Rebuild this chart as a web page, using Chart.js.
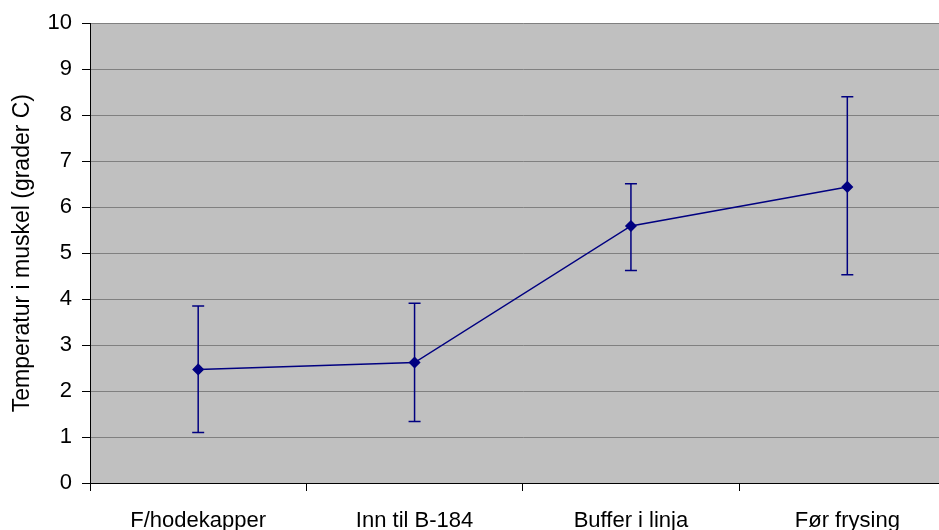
<!DOCTYPE html>
<html>
<head>
<meta charset="utf-8">
<script src="https://cdn.jsdelivr.net/npm/chart.js@4"></script>
<style>
  html, body { margin: 0; padding: 0; overflow: hidden; background: #fff; }
  #wrap { width: 962px; height: 530px; }
</style>
</head>
<body>
<div id="wrap"><canvas id="chartTemp"></canvas></div>
<script>
const categories = ['F/hodekapper', 'Inn til B-184', 'Buffer i linja', 'Før frysing'];
const meanTemp = [2.47, 2.62, 5.59, 6.44];
const errHigh = [3.85, 3.91, 6.51, 8.40];
const errLow = [1.10, 1.34, 4.62, 4.53];

// grå bakgrunn i plottområdet
const plotBg = {
    id: 'plotBg',
    beforeDraw(chart) {
        const { ctx, chartArea: a } = chart;
        ctx.save();
        ctx.fillStyle = '#c0c0c0';
        ctx.fillRect(a.left, a.top, a.right - a.left, a.bottom - a.top);
        ctx.restore();
    }
};

// feilstolper
const errorBars = {
    id: 'errorBars',
    afterDatasetsDraw(chart) {
        const { ctx, scales } = chart;
        const meta = chart.getDatasetMeta(0);
        ctx.save();
        ctx.strokeStyle = '#000080';
        ctx.lineWidth = 1.5;
        meta.data.forEach((pt, i) => {
            const x = pt.x;
            const yHi = scales.y.getPixelForValue(errHigh[i]);
            const yLo = scales.y.getPixelForValue(errLow[i]);
            ctx.beginPath();
            ctx.moveTo(x, yHi); ctx.lineTo(x, yLo);
            ctx.moveTo(x - 6, yHi); ctx.lineTo(x + 6, yHi);
            ctx.moveTo(x - 6, yLo); ctx.lineTo(x + 6, yLo);
            ctx.stroke();
        });
        ctx.restore();
    }
};

const ctxTemp = document.getElementById('chartTemp');
const chartTemp = new Chart(ctxTemp, {
    type: 'line',
    data: {
        labels: categories,
        datasets: [{
            data: meanTemp,
            borderColor: '#000080',
            backgroundColor: '#000080',
            borderWidth: 1.5,
            pointStyle: 'rectRot',
            pointRadius: 5,
            pointHoverRadius: 5,
            tension: 0
        }]
    },
    options: {
        responsive: true,
        maintainAspectRatio: false,
        animation: false,
        layout: { padding: { top: 23, right: 0, left: 0, bottom: 0 } },
        plugins: {
            legend: { display: false },
            tooltip: { enabled: false }
        },
        scales: {
            x: {
                offset: true,
                grid: {
                    offset: true,
                    drawOnChartArea: false,
                    color: '#000',
                    tickLength: 8
                },
                border: { color: '#000', width: 1 },
                ticks: {
                    color: '#000',
                    font: { family: 'Liberation Sans, Arial', size: 22 },
                    padding: 17,
                    maxRotation: 0
                },
                afterFit: s => { s.height = 47; }
            },
            y: {
                min: 0,
                max: 10,
                ticks: {
                    stepSize: 1,
                    color: '#000',
                    font: { family: 'Liberation Sans, Arial', size: 22 },
                    padding: 10
                },
                grid: {
                    color: '#808080',
                    lineWidth: 1,
                    tickColor: '#000',
                    tickLength: 8
                },
                border: { color: '#000', width: 1 },
                title: {
                    display: true,
                    text: 'Temperatur i muskel (grader C)',
                    color: '#000',
                    font: { family: 'Liberation Sans, Arial', size: 23 },
                    padding: { top: 9, bottom: 0 }
                },
                afterFit: s => { s.width = 90; }
            }
        }
    },
    plugins: [plotBg, errorBars]
});
</script>
</body>
</html>
